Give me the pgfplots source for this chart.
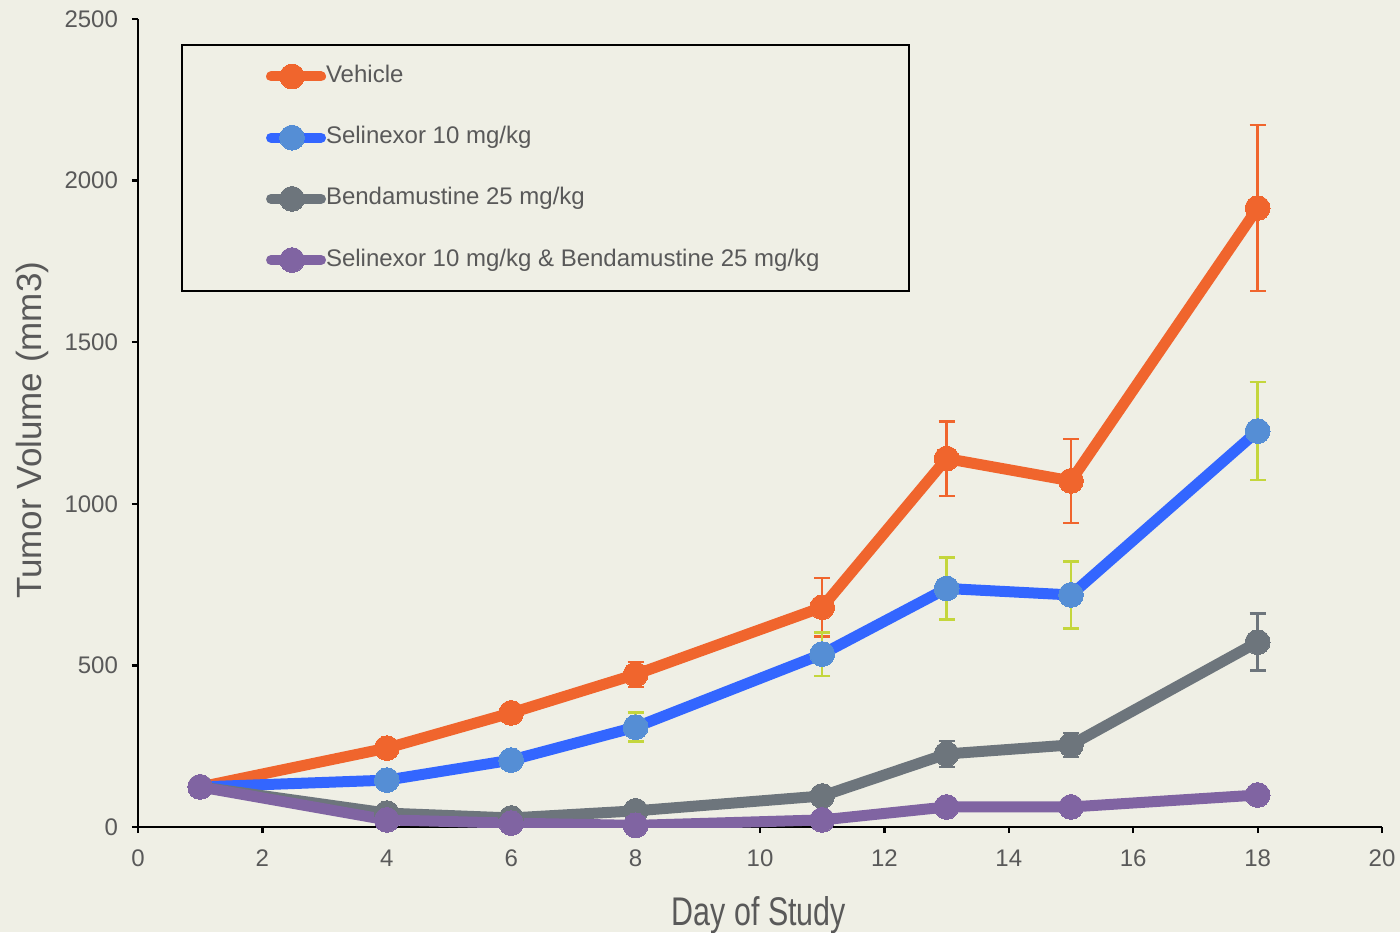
\documentclass[border=0pt]{standalone}
\usepackage{fontspec}
\setmainfont{Liberation Sans}
\newfontfamily\narrowfont[FakeStretch=0.76]{Liberation Sans}
\usepackage{pgfplots}
\usepackage{pgfplotstable}
\pgfplotsset{compat=1.18}
\usetikzlibrary{backgrounds}

\definecolor{bgc}{HTML}{EFEFE5}
\definecolor{txt}{HTML}{595959}
\definecolor{vehiclec}{HTML}{F0652D}
\definecolor{selline}{HTML}{3366FF}
\definecolor{selmark}{HTML}{558ED5}
\definecolor{selerr}{HTML}{C4D63C}
\definecolor{bendc}{HTML}{6D757C}
\definecolor{comboc}{HTML}{8064A2}

% day, mean tumour volume, error
\pgfplotstableread{
x y e
1 124 0
4 244 15
6 353 20
8 472 38
11 680 90
13 1140 115
15 1071 130
18 1915 257
}\vehicledata
\pgfplotstableread{
x y e
1 124 0
4 145 12
6 207 18
8 309 45
11 535 67
13 738 96
15 718 104
18 1225 151
}\seldata
\pgfplotstableread{
x y e
1 124 0
4 43 8
6 28 8
8 50 10
11 96 15
13 226 40
15 254 37
18 572 88
}\benddata
\pgfplotstableread{
x y e
1 124 0
4 22 5
6 12 5
8 5 5
11 22 8
13 62 10
15 62 10
18 99 25
}\combodata

\pgfplotsset{
  series/.style={line width=5.5pt, line join=round, mark=*, mark size=6.2pt,
    error bars/.cd, y dir=both, y explicit,
    error bar style={line width=1.2pt, color=#1},
    error mark options={rotate=90, mark size=4pt, line width=1.2pt, color=#1},
    /pgfplots/.cd},
}

\begin{document}
\begin{tikzpicture}
\begin{axis}[
  name=ax, at={(0,0)}, anchor=south west,
  scale only axis, width=622pt, height=404pt,
  xmin=0, xmax=20, ymin=0, ymax=2500,
  xtick={0,2,...,20}, ytick={0,500,...,2500},
  axis lines=left,
  axis line style={-, line width=1.1pt, black},
  tick align=outside, major tick length=3pt,
  tick style={line width=1.1pt, black},
  /pgf/number format/assume math mode=true,
  /pgf/number format/1000 sep={},
  ticklabel style={font=\fontsize{12}{14}\selectfont, text=txt},
  yticklabel style={xshift=-3.5pt},
  xticklabel style={yshift=-5pt},
  xlabel={\narrowfont\fontsize{20}{24}\selectfont Day of Study},
  xlabel style={at={(axis description cs:0.499,-0.1213)}, anchor=base, text=txt},
  ylabel={\fontsize{17.5}{20}\selectfont Tumor Volume (mm3)},
  ylabel style={at={(axis description cs:-0.0848,0.491)}, anchor=center, text=txt},
  legend image code/.code={
    \draw[#1, line width=5pt, line cap=round, mark=none] (2.5pt,0pt) -- (27.5pt,0pt);
    \draw[#1, line width=0pt] plot coordinates {(13pt,0pt)};
  },
  legend style={at={(axis description cs:0.0346,0.969)}, anchor=north west,
    draw=black, line width=1pt, fill=bgc, text=txt,
    inner xsep=42pt, inner ysep=9.5pt, row sep=18.2pt,
    font=\fontsize{12}{14}\selectfont,
    nodes={inner sep=0pt, text height=9pt, text depth=3pt},
    /tikz/every even column/.append style={column sep=1pt}},
  legend cell align=left,
]
\addplot[color=vehiclec, series=vehiclec, mark options={fill=vehiclec, draw=vehiclec, line width=0pt}]
  table[x=x, y=y, y error=e] {\vehicledata};
\addlegendentry{Vehicle}
\addplot[color=selline, series=selerr, mark options={fill=selmark, draw=selmark, line width=0pt}]
  table[x=x, y=y, y error=e] {\seldata};
\addlegendentry{Selinexor 10 mg/kg}
\addplot[color=bendc, series=bendc, mark options={fill=bendc, draw=bendc, line width=0pt}]
  table[x=x, y=y, y error=e] {\benddata};
\addlegendentry{Bendamustine 25 mg/kg}
\addplot[color=comboc, series=comboc, mark options={fill=comboc, draw=comboc, line width=0pt}]
  table[x=x, y=y, y error=e] {\combodata};
\addlegendentry{Selinexor 10 mg/kg \& Bendamustine 25 mg/kg\rule{2.5pt}{0pt}}
\end{axis}
\begin{scope}[on background layer]
  \fill[bgc] ([xshift=-69pt,yshift=-52.5pt]ax.south west) rectangle ([xshift=9pt,yshift=9.5pt]ax.north east);
\end{scope}
\pgfresetboundingbox
\path[use as bounding box] ([xshift=-69pt,yshift=-52.5pt]ax.south west) rectangle ([xshift=9pt,yshift=9.5pt]ax.north east);
\end{tikzpicture}
\end{document}
